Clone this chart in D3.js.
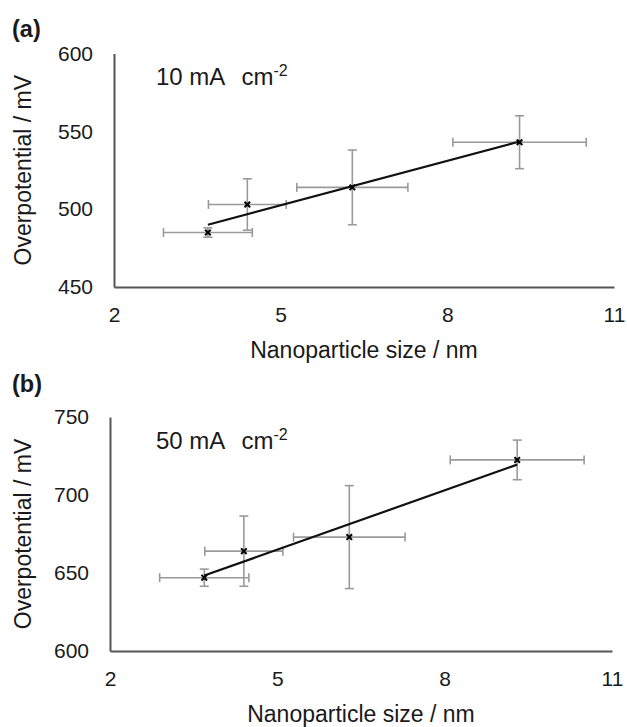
<!DOCTYPE html>
<html>
<head>
<meta charset="utf-8">
<script src="https://cdn.jsdelivr.net/npm/d3@7"></script>
<style>
  html, body { margin: 0; padding: 0; background: #fff; }
  svg { display: block; font-family: "Liberation Sans", Arial, sans-serif; }
</style>
</head>
<body>
<svg id="chart" width="627" height="727"></svg>
<script>
// ---- data ----
const xTicks = [2, 5, 8, 11];
const sizes = [3.69, 4.40, 6.29, 9.30];          // nanoparticle size / nm
const sizeErr = [0.80, 0.70, 1.00, 1.20];        // x error (nm)

const eta10 = [485, 503, 514, 543];              // overpotential at 10 mA cm-2
const eta10Err = [3, 16.5, 24, 17];
const yTicks10 = [450, 500, 550, 600];

const eta50 = [647, 664, 673, 722.5];            // overpotential at 50 mA cm-2
const eta50Err = [5.5, 22.5, 33, 12.7];
const yTicks50 = [600, 650, 700, 750];

const panelLabels = ["(a)", "(b)"];
const currentLabels = ["10 mA", "50 mA"];
const xTitle = "Nanoparticle size / nm";
const yTitle = "Overpotential / mV";

// ---- layout ----
const panels = [
  { label: panelLabels[0], cur: currentLabels[0], vals: eta10, errs: eta10Err, ticks: yTicks10,
    left: 114, right: 614, top: 53.5, bottom: 287, labelY: 37 },
  { label: panelLabels[1], cur: currentLabels[1], vals: eta50, errs: eta50Err, ticks: yTicks50,
    left: 110, right: 612, top: 417, bottom: 651, labelY: 392 }
];

const svg = d3.select("#chart");
const axisColor = "#555555";
const textColor = "#1a1a1a";
const errColor = "#9a9a9a";

function fit(xs, ys) {
  const mx = d3.mean(xs), my = d3.mean(ys);
  let sxy = 0, sxx = 0;
  xs.forEach((x, i) => { sxy += (x - mx) * (ys[i] - my); sxx += (x - mx) * (x - mx); });
  const b = sxy / sxx;
  return x => my + b * (x - mx);
}

panels.forEach(p => {
  const x = d3.scaleLinear().domain([xTicks[0], xTicks[xTicks.length - 1]]).range([p.left, p.right]);
  const y = d3.scaleLinear().domain([p.ticks[0], p.ticks[p.ticks.length - 1]]).range([p.bottom, p.top]);
  const g = svg.append("g");

  // panel label
  g.append("text").attr("x", 12).attr("y", p.labelY)
    .attr("font-size", 23.5).attr("font-weight", "bold").attr("fill", textColor).text(p.label);

  // axes
  const xa = g.append("g").attr("transform", `translate(0,${p.bottom})`)
    .call(d3.axisBottom(x).tickValues(xTicks).tickSize(0).tickPadding(20).tickFormat(d3.format("d")));
  const ya = g.append("g").attr("transform", `translate(${p.left},0)`)
    .call(d3.axisLeft(y).tickValues(p.ticks).tickSize(0).tickPadding(21).tickFormat(d3.format("d")));
  [xa, ya].forEach(a => {
    a.select(".domain").attr("stroke", axisColor).attr("stroke-width", 2);
    a.selectAll("text").attr("font-size", 21).attr("fill", textColor)
      .attr("font-family", "'Liberation Sans', Arial, sans-serif");
  });

  // axis titles
  g.append("text").attr("x", (p.left + p.right) / 2).attr("y", p.bottom + 71)
    .attr("text-anchor", "middle").attr("font-size", 23).attr("fill", textColor).text(xTitle);
  g.append("text").attr("transform", `translate(31,${(p.top + p.bottom) / 2}) rotate(-90)`)
    .attr("text-anchor", "middle").attr("font-size", 23).attr("fill", textColor).text(yTitle);

  // current density annotation
  const t = g.append("text").attr("x", 156).attr("y", p.top + 31.5)
    .attr("font-size", 24).attr("fill", textColor);
  t.append("tspan").text(p.cur);
  t.append("tspan").attr("dx", 16).text("cm");
  t.append("tspan").attr("font-size", 16).attr("dy", -9).text("-2");

  const pts = sizes.map((s, i) => ({ x: s, xe: sizeErr[i], y: p.vals[i], ye: p.errs[i] }));

  // error bars
  const eb = g.append("g").attr("stroke", errColor).attr("stroke-width", 1.6).attr("fill", "none");
  const cap = 4.5;
  pts.forEach(d => {
    const cx = x(d.x), cy = y(d.y);
    const x0 = x(d.x - d.xe), x1 = x(d.x + d.xe);
    const y0 = y(d.y - d.ye), y1 = y(d.y + d.ye);
    eb.append("line").attr("x1", x0).attr("x2", x1).attr("y1", cy).attr("y2", cy);
    eb.append("line").attr("x1", x0).attr("x2", x0).attr("y1", cy - cap).attr("y2", cy + cap);
    eb.append("line").attr("x1", x1).attr("x2", x1).attr("y1", cy - cap).attr("y2", cy + cap);
    eb.append("line").attr("x1", cx).attr("x2", cx).attr("y1", y0).attr("y2", y1);
    eb.append("line").attr("x1", cx - cap).attr("x2", cx + cap).attr("y1", y0).attr("y2", y0);
    eb.append("line").attr("x1", cx - cap).attr("x2", cx + cap).attr("y1", y1).attr("y2", y1);
  });

  // linear trend line
  const f = fit(sizes, p.vals);
  const xmin = d3.min(sizes), xmax = d3.max(sizes);
  g.append("line").attr("x1", x(xmin)).attr("y1", y(f(xmin)))
    .attr("x2", x(xmax)).attr("y2", y(f(xmax)))
    .attr("stroke", "#111").attr("stroke-width", 2.2);

  // markers
  g.selectAll(".m").data(pts).join("path")
    .attr("transform", d => `translate(${x(d.x)},${y(d.y)})`)
    .attr("d", d3.symbol(d3.symbolTimes, 22))
    .attr("stroke", "#000").attr("stroke-width", 2).attr("fill", "none");
});
</script>
</body>
</html>
